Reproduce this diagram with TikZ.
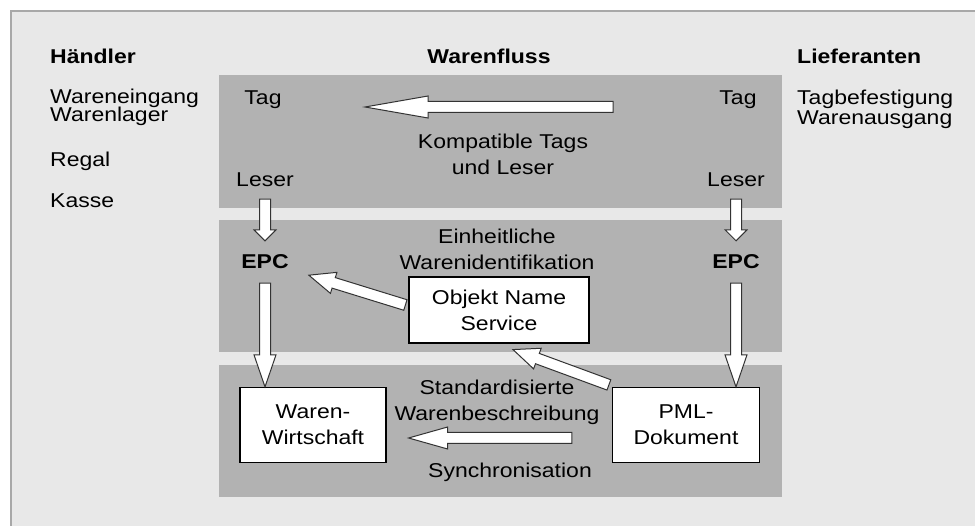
\documentclass[tikz,border=0pt]{standalone}
\usepackage{fontspec}
\setmainfont{Liberation Sans}[FakeStretch=1.15]
\usetikzlibrary{calc}

\newlength{\du}
\setlength{\du}{1pt}

\definecolor{framecolor}{rgb}{0.910000, 0.910000, 0.910000}
\definecolor{framelinecolor}{rgb}{0.660000, 0.660000, 0.660000}
\definecolor{bandcolor}{rgb}{0.700000, 0.700000, 0.700000}
\definecolor{arrowlinecolor}{rgb}{0.200000, 0.200000, 0.200000}

\tikzset{
  txt/.style={inner sep=0pt, text height=14\du, text depth=0pt, font=\fontsize{20}{26}\selectfont},
  txtlines/.style={inner sep=0pt, align=center, font=\fontsize{20}{26}\selectfont},
  heading/.style={txt, font=\fontsize{20}{26}\selectfont\bfseries},
  whitebox/.style={txtlines, draw=black, fill=white, line width=1.2\du},
  arrowbody/.style={draw=arrowlinecolor, fill=white, line width=1\du, line join=miter}
}

% white block arrow: [head length]{tail}{tip}
\newcommand{\blockarrow}[3][12]{%
  \coordinate (ba base) at ($(#3)!#1\du!(#2)$);
  \draw[arrowbody] ($(#2)!5.5\du!90:(#3)$) -- ($(ba base)!5.5\du!90:(#3)$)
    -- ($(ba base)!11\du!90:(#3)$) -- (#3) -- ($(ba base)!11\du!-90:(#3)$)
    -- ($(ba base)!5.5\du!-90:(#3)$) -- ($(#2)!5.5\du!-90:(#3)$) -- cycle;}

\begin{document}
\begin{tikzpicture}
\pgftransformxscale{1.000000}
\pgftransformyscale{-1.000000}
\useasboundingbox (0\du,0\du) rectangle (975\du,526\du);
% frame
\fill[framecolor] (10\du,10\du) rectangle (985\du,536\du);
\draw[framelinecolor, line width=2\du] (11\du,540\du) -- (11\du,11\du) -- (990\du,11\du);
% bands
\fill[bandcolor] (219\du,75\du) rectangle (782\du,208\du);
\fill[bandcolor] (219\du,220\du) rectangle (782\du,352\du);
\fill[bandcolor] (219\du,365\du) rectangle (782\du,497\du);
% headings
\node[heading, anchor=west] (haendler) at (50\du,57\du){Händler};
\node[heading] (warenfluss) at (489\du,57\du){Warenfluss};
\node[heading, anchor=west] (lieferanten) at (797\du,57\du){Lieferanten};
% left and right columns
\node[txt, anchor=west] (eingang) at (50\du,97\du){Wareneingang};
\node[txt, anchor=west] (lager) at (50\du,115\du){Warenlager};
\node[txt, anchor=west] (regal) at (50\du,160\du){Regal};
\node[txt, anchor=west] (kasse) at (50\du,201\du){Kasse};
\node[txt, anchor=west] (befestigung) at (797\du,98\du){Tagbefestigung};
\node[txt, anchor=west] (ausgang) at (797\du,118\du){Warenausgang};
% band 1
\node[txt] (tagL) at (263\du,98\du){Tag};
\node[txt] (tagR) at (738\du,98\du){Tag};
\node[txtlines] (kompatibel) at (503\du,154\du){Kompatible Tags\\und Leser};
\node[txt] (leserL) at (265\du,180\du){Leser};
\node[txt] (leserR) at (736\du,180\du){Leser};
% band 2
\node[txtlines] (einheitlich) at (497\du,249\du){Einheitliche\\Warenidentifikation};
\node[txt, font=\fontsize{20}{26}\selectfont\bfseries] (epcL) at (265\du,262\du){EPC};
\node[txt, font=\fontsize{20}{26}\selectfont\bfseries] (epcR) at (736\du,262\du){EPC};
\node[whitebox, minimum width=180\du, minimum height=66\du] (ons) at (499\du,310\du){Objekt Name\\Service};
% band 3
\node[whitebox, minimum width=146\du, minimum height=75\du] (ww) at (313\du,425\du){Waren-\\Wirtschaft};
\node[whitebox, minimum width=147\du, minimum height=75\du] (pml) at (686\du,425\du){PML-\\Dokument};
\node[txtlines] (standard) at (497\du,402\du){Standardisierte\\Warenbeschreibung};
\node[txt] (sync) at (510\du,471\du){Synchronisation};
% arrows
\coordinate (kompTail) at (613\du,107\du);
\coordinate (kompTip) at (365\du,107\du);
\blockarrow[63]{kompTail}{kompTip}
\coordinate (lsrLtail) at ($(leserL.south)+(0\du,12\du)$);
\coordinate (lsrLtip) at ($(epcL.north)+(0\du,-14\du)$);
\blockarrow[11]{lsrLtail}{lsrLtip}
\coordinate (lsrRtail) at ($(leserR.south)+(0\du,12\du)$);
\coordinate (lsrRtip) at ($(epcR.north)+(0\du,-14\du)$);
\blockarrow[11]{lsrRtail}{lsrRtip}
\coordinate (epcLtail) at ($(epcL.south)+(0\du,14\du)$);
\coordinate (epcLtip) at (epcL |- ww.north);
\blockarrow[32]{epcLtail}{epcLtip}
\coordinate (epcRtail) at ($(epcR.south)+(0\du,14\du)$);
\coordinate (epcRtip) at (epcR |- pml.north);
\blockarrow[32]{epcRtail}{epcRtip}
\coordinate (onsTail) at ($(ons.west)+(-3\du,-5\du)$);
\coordinate (onsTip) at ($(epcL.south east)+(20\du,6\du)$);
\blockarrow[26]{onsTail}{onsTip}
\coordinate (pmlTail) at ($(pml.north west)+(-3\du,-2\du)$);
\coordinate (pmlTip) at ($(ons.south)+(14\du,6\du)$);
\blockarrow[26]{pmlTail}{pmlTip}
\coordinate (syncTail) at ($(pml.west)+(-40\du,13\du)$);
\coordinate (syncTip) at ($(ww.east)+(22\du,13\du)$);
\blockarrow[39]{syncTail}{syncTip}
\end{tikzpicture}
\end{document}
